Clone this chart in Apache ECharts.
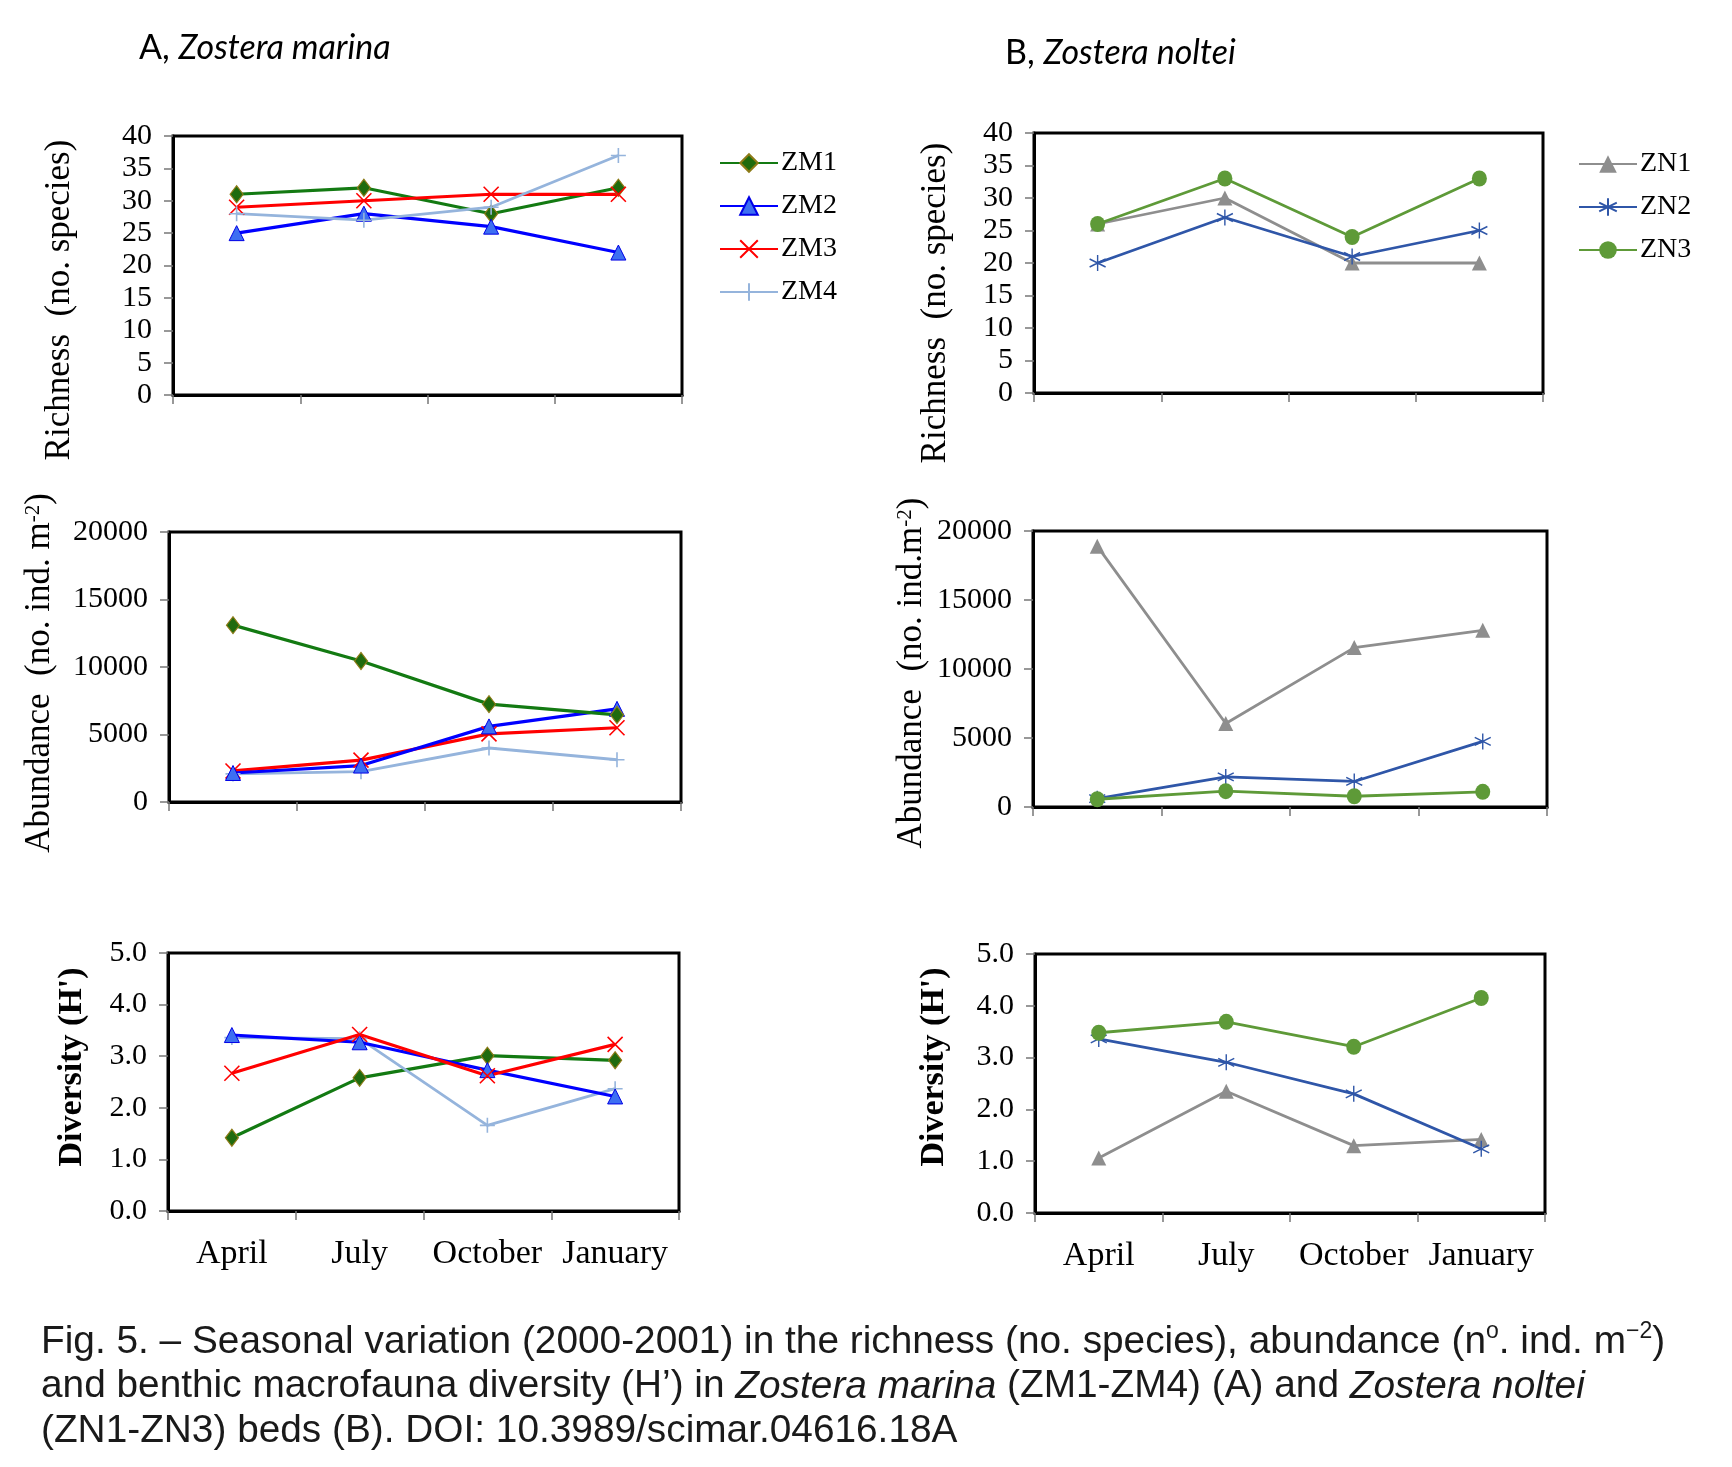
<!DOCTYPE html>
<html>
<head>
<meta charset="utf-8">
<title>Fig. 5 seasonal variation</title>
<script src="https://cdn.jsdelivr.net/npm/echarts@6/dist/echarts.min.js"></script>
<style>
  html, body { margin: 0; padding: 0; background: #fff; }
  #chart { width: 1732px; height: 1467px; }
</style>
</head>
<body>
<div id="chart"></div>
<script>
// sampling months
var months = ['April', 'July', 'October', 'January'];

// A, Zostera marina
var richZM1 = [31, 32, 28, 32];
var richZM2 = [25, 28, 26, 22];
var richZM3 = [29, 30, 31, 31];
var richZM4 = [28, 27, 29, 37];

var abunZM1 = [13100, 10450, 7250, 6450];
var abunZM2 = [2150, 2700, 5600, 6900];
var abunZM3 = [2300, 3100, 5050, 5500];
var abunZM4 = [2080, 2250, 4000, 3130];

var divZM1 = [1.42, 2.58, 3.01, 2.92];
var divZM2 = [3.41, 3.27, 2.73, 2.22];
var divZM3 = [2.67, 3.42, 2.62, 3.23];
var divZM4 = [3.36, 3.34, 1.66, 2.37];

// B, Zostera noltei
var richZN1 = [26, 30, 20, 20];
var richZN2 = [20, 27, 21, 25];
var richZN3 = [26, 33, 24, 33];

var abunZN1 = [18900, 6050, 11550, 12800];
var abunZN2 = [600, 2180, 1850, 4750];
var abunZN3 = [560, 1150, 780, 1100];

var divZN1 = [1.06, 2.35, 1.30, 1.42];
var divZN2 = [3.36, 2.91, 2.30, 1.24];
var divZN3 = [3.48, 3.69, 3.21, 4.15];

// axis ranges [min, max, interval]
var richRange = [0, 40, 5];
var abunRange = [0, 20000, 5000];
var divRange = [0, 5, 1];

var SERIF = "'Liberation Serif', 'Times New Roman', serif";
var SANS = "'Liberation Sans', Arial, Helvetica, sans-serif";

var look = {
  ZM1: { line: '#137a12', symbol: 'diamond', size: [13, 17], fill: '#1f6b0e', border: '#8c7a16', bw: 1.2, lw: 3.2 },
  ZM2: { line: '#0000ff', symbol: 'triangle', size: 15, fill: '#3d6ff2', border: '#0000e6', bw: 1, lw: 3.2 },
  ZM3: { line: '#ff0000', symbol: 'path://M0,0L10,10M10,0L0,10', size: 15, fill: '#ff0000', border: '#ff0000', bw: 1.6, lw: 3.2 },
  ZM4: { line: '#95b4dc', symbol: 'path://M5,0L5,10M0,5L10,5', size: 15, fill: '#95b4dc', border: '#95b4dc', bw: 1.6, lw: 2.8 },
  ZN1: { line: '#8e8e8e', symbol: 'triangle', size: 15, fill: '#8e8e8e', border: '#8e8e8e', bw: 0, lw: 2.8 },
  ZN2: { line: '#2f56a8', symbol: 'path://M5,0L5,10M0.7,2.5L9.3,7.5M0.7,7.5L9.3,2.5', size: 16, fill: '#2f56a8', border: '#2f56a8', bw: 1.4, lw: 2.8 },
  ZN3: { line: '#5e9a38', symbol: 'circle', size: [15, 16], fill: '#5e9a38', border: '#5e9a38', bw: 0, lw: 2.8 }
};

var grids = [
  { left: 173, top: 136, width: 509, height: 259 },
  { left: 169, top: 532, width: 512, height: 270 },
  { left: 168, top: 953, width: 511, height: 258 },
  { left: 1034, top: 133, width: 509, height: 260 },
  { left: 1033, top: 531, width: 514, height: 276 },
  { left: 1035, top: 954, width: 510, height: 259 }
];
grids.forEach(function (g) {
  g.show = true;
  g.borderColor = '#000';
  g.borderWidth = 3;
  g.backgroundColor = '#fff';
});

var xAxes = grids.map(function (g, i) {
  return {
    type: 'category',
    gridIndex: i,
    data: months,
    boundaryGap: true,
    axisLine: { lineStyle: { color: '#000', width: 3 } },
    axisTick: { show: true, inside: false, length: 9, interval: 0, lineStyle: { color: '#777', width: 1.5 } },
    axisLabel: { show: i === 2 || i === 5, interval: 0, margin: 26, color: '#000', fontFamily: SERIF, fontSize: 34 }
  };
});

var ranges = [richRange, abunRange, divRange, richRange, abunRange, divRange];
var yAxes = grids.map(function (g, i) {
  var r = ranges[i];
  var isDiv = (i === 2 || i === 5);
  return {
    type: 'value',
    gridIndex: i,
    min: r[0], max: r[1], interval: r[2],
    splitLine: { show: false },
    axisLine: { show: true, lineStyle: { color: '#000', width: 3 } },
    axisTick: { show: true, inside: false, length: 9, lineStyle: { color: '#777', width: 1.5 } },
    axisLabel: {
      margin: 21, color: '#000', fontFamily: SERIF, fontSize: 30,
      formatter: function (v) { return isDiv ? v.toFixed(1) : String(v); }
    }
  };
});

function line(name, data, gi) {
  var s = look[name];
  return {
    type: 'line',
    name: name,
    data: data,
    xAxisIndex: gi,
    yAxisIndex: gi,
    symbol: s.symbol,
    symbolSize: s.size,
    showAllSymbol: true,
    lineStyle: { color: s.line, width: s.lw },
    itemStyle: { color: s.fill, borderColor: s.border, borderWidth: s.bw },
    emphasis: { disabled: true }
  };
}

var series = [
  line('ZM1', richZM1, 0), line('ZM2', richZM2, 0), line('ZM3', richZM3, 0), line('ZM4', richZM4, 0),
  line('ZM4', abunZM4, 1), line('ZM3', abunZM3, 1), line('ZM2', abunZM2, 1), line('ZM1', abunZM1, 1),
  line('ZM1', divZM1, 2), line('ZM4', divZM4, 2), line('ZM2', divZM2, 2), line('ZM3', divZM3, 2),
  line('ZN1', richZN1, 3), line('ZN2', richZN2, 3), line('ZN3', richZN3, 3),
  line('ZN1', abunZN1, 4), line('ZN2', abunZN2, 4), line('ZN3', abunZN3, 4),
  line('ZN1', divZN1, 5), line('ZN2', divZN2, 5), line('ZN3', divZN3, 5)
];

function legend(names, left, top) {
  return {
    data: names,
    orient: 'vertical',
    left: left,
    top: top,
    itemWidth: 58,
    itemHeight: 22,
    itemGap: 15,
    selectedMode: false,
    textStyle: { fontFamily: SERIF, fontSize: 28, color: '#000', padding: [0, 0, 0, -2] }
  };
}

function axisName(text, x, y, bold) {
  return {
    type: 'text',
    x: x, y: y,
    rotation: Math.PI / 2,
    style: {
      text: text,
      fontFamily: SERIF, fontSize: bold ? 34 : 35, fontWeight: bold ? 'bold' : 'normal',
      fill: '#000', align: 'center', verticalAlign: 'middle',
      rich: {
        sup: { fontFamily: SERIF, fontSize: 21, verticalAlign: 'top', fill: '#000' }
      }
    }
  };
}

function title(text, x, y) {
  return {
    type: 'text', x: x, y: y,
    style: {
      text: text, fontFamily: 'Lato', fontSize: 34, fill: '#000', verticalAlign: 'middle',
      rich: { i: { fontFamily: 'Lato', fontSize: 34, fontStyle: 'italic', fill: '#000' } }
    }
  };
}

var captionLines = [
  'Fig. 5. – Seasonal variation (2000-2001) in the richness (no. species), abundance (n{sup|o}. ind. m{sup|−2})',
  'and benthic macrofauna diversity (H’) in {i|Zostera marina} (ZM1-ZM4) (A) and {i|Zostera noltei}',
  '(ZN1-ZN3) beds (B). DOI: 10.3989/scimar.04616.18A'
];

var caption = {
  type: 'text', x: 41, y: 1320,
  style: {
    text: captionLines.join('\n'),
    fontFamily: SANS, fontSize: 38.8, lineHeight: 44.5, fill: '#1a1a1a',
    rich: {
      i: { fontFamily: SANS, fontSize: 38.8, lineHeight: 44.5, fontStyle: 'italic', fill: '#1a1a1a' },
      sup: { fontFamily: SANS, fontSize: 23, lineHeight: 44.5, verticalAlign: 'top', fill: '#1a1a1a' }
    }
  }
};

var chart = echarts.init(document.getElementById('chart'), null, { renderer: 'canvas' });
chart.setOption({
  backgroundColor: '#fff',
  animation: false,
  grid: grids,
  xAxis: xAxes,
  yAxis: yAxes,
  legend: [
    legend(['ZM1', 'ZM2', 'ZM3', 'ZM4'], 714, 144),
    legend(['ZN1', 'ZN2', 'ZN3'], 1573, 145)
  ],
  series: series,
  graphic: [
    title('A, {i|Zostera marina}', 139, 48),
    title('B, {i|Zostera noltei}', 1005, 53),
    axisName('Richness  (no. species)', 60, 300),
    axisName('Abundance  (no. ind. m{sup|-2})', 40, 673),
    axisName('Diversity (H\')', 72, 1067, true),
    axisName('Richness  (no. species)', 936, 303),
    axisName('Abundance  (no. ind.m{sup|-2})', 912, 673),
    axisName('Diversity (H\')', 934, 1067, true),
    caption
  ]
});
</script>
</body>
</html>
